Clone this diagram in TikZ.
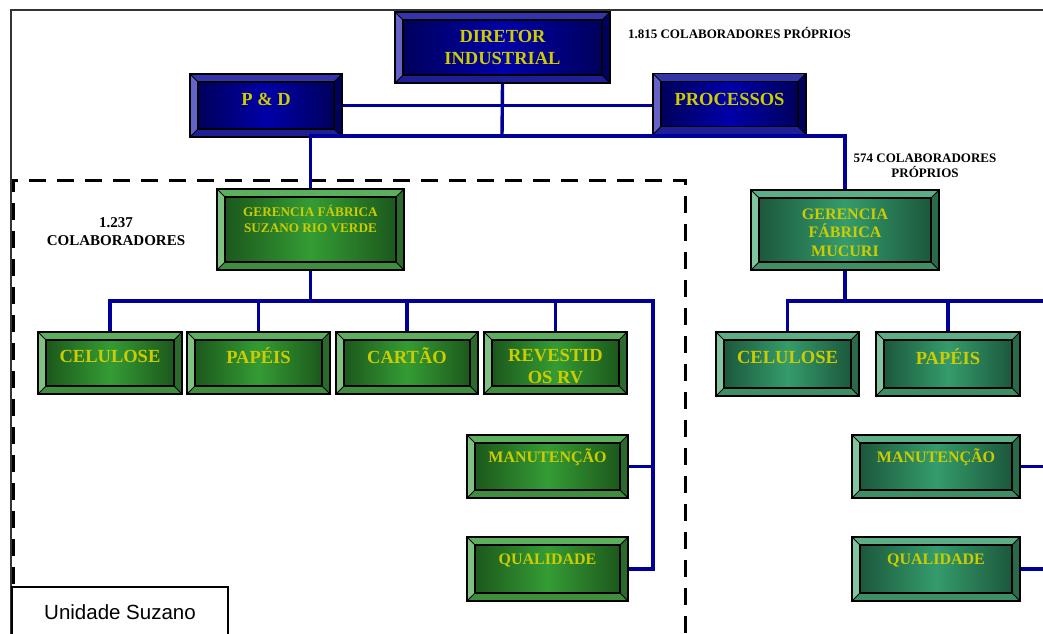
\documentclass[tikz,border=0pt]{standalone}
\usepackage{fontspec}
\setmainfont{Liberation Serif}
\newfontfamily\arialfont{Liberation Sans}
\usetikzlibrary{calc}
% colour schemes of the bevelled boxes
\definecolor{bxTop}{HTML}{3535AA}
\definecolor{bxLeft}{HTML}{6464C8}
\definecolor{bxRight}{HTML}{000060}
\definecolor{bxBot}{HTML}{1E1E96}
\definecolor{bxEdge}{HTML}{00005C}
\definecolor{bxMid}{HTML}{0000A8}
\definecolor{gxTop}{HTML}{5CAF5C}
\definecolor{gxLeft}{HTML}{80C080}
\definecolor{gxRight}{HTML}{2A6A2A}
\definecolor{gxBot}{HTML}{3E8E3E}
\definecolor{gxEdge}{HTML}{1C581C}
\definecolor{gxMid}{HTML}{349C34}
\definecolor{txTop}{HTML}{5BAE86}
\definecolor{txLeft}{HTML}{80C4A0}
\definecolor{txRight}{HTML}{2A6A4A}
\definecolor{txBot}{HTML}{3E8E66}
\definecolor{txEdge}{HTML}{1C583C}
\definecolor{txMid}{HTML}{349C6C}
\definecolor{ylw}{HTML}{CCCC00}
\definecolor{wireblue}{HTML}{000099}
\tikzset{
  bevelfill/.style={path picture={
    \path (path picture bounding box.north west) coordinate (bvNWo)
          (path picture bounding box.north east) coordinate (bvNEo)
          (path picture bounding box.south west) coordinate (bvSWo)
          (path picture bounding box.south east) coordinate (bvSEo)
          ([shift={(8pt,-8pt)}]bvNWo) coordinate (bvNWi)
          ([shift={(-8pt,-8pt)}]bvNEo) coordinate (bvNEi)
          ([shift={(8pt,8pt)}]bvSWo) coordinate (bvSWi)
          ([shift={(-8pt,8pt)}]bvSEo) coordinate (bvSEi);
    \fill[#1Top] (bvNWo) -- (bvNEo) -- (bvNEi) -- (bvNWi) -- cycle;
    \fill[#1Left] (bvNWo) -- (bvNWi) -- (bvSWi) -- (bvSWo) -- cycle;
    \fill[#1Right] (bvNEo) -- (bvSEo) -- (bvSEi) -- (bvNEi) -- cycle;
    \fill[#1Bot] (bvSWo) -- (bvSWi) -- (bvSEi) -- (bvSEo) -- cycle;
    \shade[left color=#1Edge, right color=#1Edge, middle color=#1Mid] (bvNWi) rectangle (bvSEi);
    \draw[line width=1.3pt] (bvNWi) rectangle (bvSEi);
    \draw[line width=0.8pt] (bvNWo) -- (bvNWi) (bvNEo) -- (bvNEi) (bvSWo) -- (bvSWi) (bvSEo) -- (bvSEi);
  }},
  orgbox/.style={draw=black, line width=1.5pt, rectangle, inner sep=0pt},
  bluebox/.style={orgbox, bevelfill=bx},
  greenbox/.style={orgbox, bevelfill=gx, minimum height=62pt},
  tealbox/.style={orgbox, bevelfill=tx, minimum height=63pt},
  boxtext/.style={text=ylw, font=\bfseries\fontsize{18.5}{22}\selectfont, align=center, inner sep=0pt},
  smalltext/.style={boxtext, font=\bfseries\fontsize{16}{18.5}\selectfont},
  note/.style={font=\bfseries\fontsize{13}{15}\selectfont, align=center, inner sep=0pt},
  wire/.style={draw=wireblue, line width=3.4pt},
  unitbox/.style={draw=black, line width=1.5pt, fill=white, minimum width=216pt, minimum height=50pt, font=\arialfont\fontsize{20.5}{24}\selectfont}
}
\begin{document}
\begin{tikzpicture}[x=1pt, y=-1pt]
	\useasboundingbox (0,0) rectangle (1043,633);
	\clip (0,0) rectangle (1043,633);
	% frame and dashed unit outline
	\draw[black!80, line width=1.5pt] (11,640) -- (11,10) -- (1050,10);
	\draw[line width=3pt, dash pattern=on 17pt off 11pt] (13,640) -- (13,180) -- (685,180) -- (685,640);
	% boxes
	\node[bluebox, minimum width=215pt, minimum height=71pt] (dir) at (502.5,47.5) {};
	\node[bluebox, minimum width=152pt, minimum height=63pt] (pd) at (266,105.5) {};
	\node[bluebox, minimum width=153pt, minimum height=61pt] (proc) at (729.5,104) {};
	\node[greenbox, minimum width=187pt, minimum height=81pt] (gsz) at (310.5,229.5) {};
	\node[tealbox, minimum width=188pt, minimum height=80pt] (gmu) at (845,230) {};
	\node[greenbox, minimum width=144pt] (cel) at (110,363) {};
	\node[greenbox, minimum width=143pt] (pap) at (258.5,363) {};
	\node[greenbox, minimum width=142pt] (cart) at (407,363) {};
	\node[greenbox, minimum width=143pt] (rev) at (555.5,363) {};
	\node[greenbox, minimum width=161pt, minimum height=63pt] (man) at (547.5,466.5) {};
	\node[greenbox, minimum width=161pt, minimum height=64pt] (qual) at (547.5,569) {};
	\node[tealbox, minimum width=143pt, minimum height=64pt] (cel2) at (787.5,364) {};
	\node[tealbox, minimum width=144pt, minimum height=64pt] (pap2) at (948,364) {};
	\node[tealbox, minimum width=168pt] (man2) at (936,466.5) {};
	\node[tealbox, minimum width=168pt, minimum height=64pt] (qual2) at (936,569) {};
	% connectors
	\coordinate (topbus) at (502,136);
	\coordinate (busA) at (653,301);
	\coordinate (busB) at (1060,301);
	\draw[wire] (dir.south) -- (topbus);
	\draw[wire] (pd.east) -- (pd.east -| proc.west);
	\draw[wire] (gsz.north) |- (topbus) -| (gmu.north);
	\draw[wire] (gsz.south) -- (gsz.south |- busA);
	\draw[wire] (cel.north) |- (busA) |- (qual.east);
	\draw[wire] (pap.north) -- (pap.north |- busA);
	\draw[wire] (cart.north) -- (cart.north |- busA);
	\draw[wire] (rev.north) -- (rev.north |- busA);
	\draw[wire] (man.east) -- (man.east -| busA);
	\draw[wire] (gmu.south) -- (gmu.south |- busB);
	\draw[wire] (cel2.north) |- (busB) |- (qual2.east);
	\draw[wire] (pap2.north) -- (pap2.north |- busB);
	\draw[wire] (man2.east) -- (man2.east -| busB);
	% box texts
	\node[boxtext] (dir-t) at (dir.center) {DIRETOR\\INDUSTRIAL};
	\node[boxtext] (pd-t) at ([yshift=6.5pt]pd.center) {P \& D};
	\node[boxtext] (proc-t) at ([yshift=5pt]proc.center) {PROCESSOS};
	\node[boxtext, font=\bfseries\fontsize{13.2}{16}\selectfont] (gsz-t) at ([yshift=10.5pt]gsz.center) {GERENCIA FÁBRICA\\SUZANO RIO VERDE};
	\begin{scope}
	\clip (gmu.north west) rectangle ([yshift=15pt]gmu.south east);
	\node[smalltext] (gmu-t) at ([yshift=-2.5pt]gmu.center) {GERENCIA\\FÁBRICA\\MUCURI};
	\end{scope}
	\node[boxtext] (cel-t) at ([yshift=7pt]cel.center) {CELULOSE};
	\node[boxtext] (pap-t) at ([yshift=7pt]pap.center) {PAPÉIS};
	\node[boxtext] (cart-t) at ([yshift=7pt]cart.center) {CARTÃO};
	\node[boxtext] (rev-t) at ([yshift=-4pt]rev.center) {REVESTID\\OS RV};
	\node[smalltext] (man-t) at ([yshift=9.5pt]man.center) {MANUTENÇÃO};
	\node[smalltext] (qual-t) at ([yshift=9pt]qual.center) {QUALIDADE};
	\node[boxtext] (cel2-t) at ([yshift=7pt]cel2.center) {CELULOSE};
	\node[boxtext] (pap2-t) at ([yshift=7pt]pap2.center) {PAPÉIS};
	\node[smalltext] (man2-t) at ([yshift=9.5pt]man2.center) {MANUTENÇÃO};
	\node[smalltext] (qual2-t) at ([yshift=9pt]qual2.center) {QUALIDADE};
	% staff counts
	\node[note] (n1815) at (739.5,33) {1.815 COLABORADORES PRÓPRIOS};
	\node[note] (n574) at (925,165.5) {574 COLABORADORES\\PRÓPRIOS};
	\node[note, font=\bfseries\fontsize{15}{18}\selectfont] (n1237) at (116,232) {1.237\\COLABORADORES};
	\node[unitbox] (unit) at (120,612) {Unidade Suzano};
\end{tikzpicture}
\end{document}
